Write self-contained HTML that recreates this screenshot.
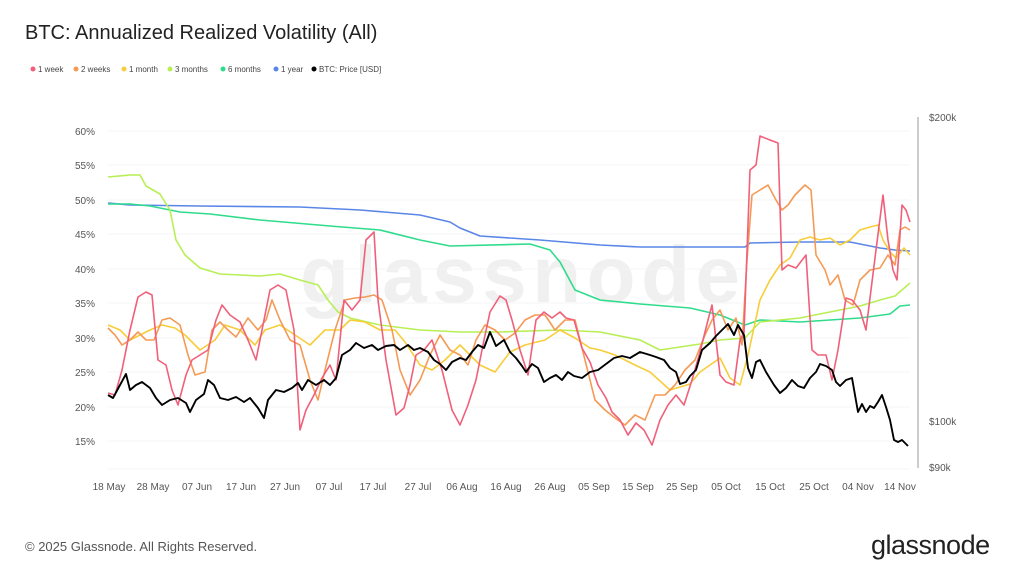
<!DOCTYPE html>
<html><head><meta charset="utf-8"><style>
html,body{margin:0;padding:0;background:#fff;}
body{width:1024px;height:576px;overflow:hidden;font-family:"Liberation Sans",sans-serif;position:relative;}
.t{position:absolute;white-space:nowrap;}
</style></head><body>
<div class="t" style="left:25px;top:22px;font-size:20px;color:#222;">BTC: Annualized Realized Volatility (All)</div>
<svg width="1024" height="576" style="position:absolute;left:0;top:0" font-family="Liberation Sans, sans-serif">
<g font-size="8" fill="#444">
<circle cx="33" cy="69" r="2.5" fill="#f0607a"/><text x="38" y="72">1 week</text>
<circle cx="76" cy="69" r="2.5" fill="#f59a55"/><text x="81" y="72">2 weeks</text>
<circle cx="124" cy="69" r="2.5" fill="#f8cd3a"/><text x="129" y="72">1 month</text>
<circle cx="170" cy="69" r="2.5" fill="#b7ef55"/><text x="175" y="72">3 months</text>
<circle cx="223" cy="69" r="2.5" fill="#2fdc8c"/><text x="228" y="72">6 months</text>
<circle cx="276" cy="69" r="2.5" fill="#5a86e8"/><text x="281" y="72">1 year</text>
<circle cx="314" cy="69" r="2.5" fill="#000"/><text x="319" y="72">BTC: Price [USD]</text>
</g>
<text x="300" y="302" font-size="80" fill="#f0f0f0" font-weight="bold" textLength="440">glassnode</text>
<g stroke="#f5f5f5" stroke-width="1">
<line x1="108" x2="910" y1="131" y2="131"/><line x1="108" x2="910" y1="165" y2="165"/><line x1="108" x2="910" y1="200" y2="200"/><line x1="108" x2="910" y1="234" y2="234"/><line x1="108" x2="910" y1="269" y2="269"/><line x1="108" x2="910" y1="303" y2="303"/><line x1="108" x2="910" y1="338" y2="338"/><line x1="108" x2="910" y1="372" y2="372"/><line x1="108" x2="910" y1="407" y2="407"/><line x1="108" x2="910" y1="441" y2="441"/><line x1="108" x2="910" y1="469" y2="469"/>
</g>
<g font-size="10" fill="#555" text-anchor="end">
<text x="95" y="135">60%</text><text x="95" y="169">55%</text><text x="95" y="204">50%</text><text x="95" y="238">45%</text><text x="95" y="273">40%</text><text x="95" y="307">35%</text><text x="95" y="342">30%</text><text x="95" y="376">25%</text><text x="95" y="411">20%</text><text x="95" y="445">15%</text>
</g>
<line x1="918" y1="117" x2="918" y2="468" stroke="#999" stroke-width="1"/>
<g font-size="10" fill="#555"><text x="929" y="121">$200k</text><text x="929" y="425">$100k</text><text x="929" y="471">$90k</text></g>
<g font-size="10" fill="#555" text-anchor="middle">
<text x="109" y="490">18 May</text><text x="153" y="490">28 May</text><text x="197" y="490">07 Jun</text><text x="241" y="490">17 Jun</text><text x="285" y="490">27 Jun</text><text x="329" y="490">07 Jul</text><text x="373" y="490">17 Jul</text><text x="418" y="490">27 Jul</text><text x="462" y="490">06 Aug</text><text x="506" y="490">16 Aug</text><text x="550" y="490">26 Aug</text><text x="594" y="490">05 Sep</text><text x="638" y="490">15 Sep</text><text x="682" y="490">25 Sep</text><text x="726" y="490">05 Oct</text><text x="770" y="490">15 Oct</text><text x="814" y="490">25 Oct</text><text x="858" y="490">04 Nov</text><text x="900" y="490">14 Nov</text>
</g>
<g fill="none" stroke-width="1.6" stroke-linejoin="round">
<polyline stroke="#5a86e8" points="108,203 130,205 200,206 300,207 360,210 420,215 450,222 460,228 480,236 540,240 600,245 640,247 745,247 750,243 800,242 850,242 860,244 880,248 895,250 910,251"/>
<polyline stroke="#2fdc8c" points="108,204 130,204 150,206 180,212 210,214 260,220 330,226 380,230 420,240 450,246 530,244 550,250 560,262 575,290 600,300 640,304 690,308 720,315 745,325 760,320 780,321 800,322 860,318 890,314 900,306 910,305"/>
<polyline stroke="#b7ef55" points="108,177 130,175 140,175 146,186 160,194 170,210 176,240 185,255 200,268 220,274 260,276 280,274 300,280 318,285 328,300 338,312 350,318 380,325 420,330 460,332 500,332 560,330 600,332 640,340 660,350 700,344 720,340 745,338 760,322 800,318 830,312 860,306 880,300 895,296 910,283"/>
<polyline stroke="#f8cd3a" points="108,325 120,330 130,340 140,335 150,330 162,325 175,328 185,335 200,350 215,340 225,325 240,330 255,345 265,330 280,325 295,335 310,345 325,330 340,330 350,320 365,322 380,330 395,330 405,342 420,365 432,370 445,360 460,345 470,355 480,365 495,372 510,352 525,345 545,340 560,330 575,338 590,348 600,350 615,355 635,365 650,372 670,390 690,384 700,372 710,365 720,358 730,378 740,385 748,355 760,300 770,280 780,265 790,258 800,240 810,237 820,240 830,238 840,245 850,240 860,230 870,227 878,225 883,240 890,252 896,258 904,248 910,255"/>
<polyline stroke="#f59a55" points="108,328 115,335 122,345 130,340 138,332 146,340 154,340 162,320 170,318 180,325 188,355 195,375 205,372 212,330 220,322 228,330 236,337 248,318 258,330 266,320 272,300 280,320 290,340 300,345 310,380 318,400 325,370 335,330 345,300 355,298 365,297 374,295 382,300 392,330 400,370 410,395 420,380 430,355 440,335 450,350 460,355 468,365 476,340 485,325 495,330 505,340 515,333 525,320 535,315 545,315 555,330 565,320 575,320 585,360 595,400 605,410 615,418 625,425 635,415 645,420 655,395 665,395 675,385 685,370 695,360 705,335 712,320 720,310 728,330 736,318 742,345 747,260 752,195 760,190 768,185 776,200 782,210 788,205 795,195 805,185 811,190 816,255 825,270 830,285 838,275 845,300 853,305 860,280 870,270 880,268 888,255 895,265 900,230 905,227 910,230"/>
<polyline stroke="#f0607a" points="108,393 115,395 122,370 130,330 138,297 146,292 152,295 158,360 166,365 172,390 178,405 186,375 192,360 200,355 208,350 216,320 222,305 230,315 240,322 248,340 256,360 262,330 270,290 278,285 286,290 294,330 300,430 306,410 314,395 322,378 330,365 336,380 344,300 352,310 360,300 366,240 374,232 378,300 386,360 396,415 404,408 410,385 416,355 424,350 432,340 442,370 452,410 460,425 468,405 476,380 484,340 490,312 500,296 506,300 512,320 520,350 528,375 536,320 544,312 552,318 560,312 566,318 574,320 582,348 590,362 598,385 606,398 612,412 620,420 628,435 636,423 644,430 652,445 660,420 668,405 676,395 684,405 692,380 700,352 708,320 712,305 720,375 726,382 734,385 740,340 744,333 750,170 756,165 760,136 770,140 778,143 782,270 788,265 796,268 806,255 812,350 818,355 826,355 832,380 838,350 846,298 852,300 860,310 866,330 876,250 883,195 888,240 893,270 897,280 902,205 906,210 910,222"/>
<polyline stroke="#000" stroke-width="1.9" points="108,395 113,398 120,385 126,374 130,390 136,385 142,382 150,388 156,398 162,405 170,400 178,398 186,403 190,412 196,400 204,394 208,380 214,385 220,398 228,400 236,397 244,402 250,398 258,408 264,418 268,400 276,390 284,392 292,388 298,383 302,390 308,380 316,385 324,380 330,385 336,378 342,355 350,350 356,343 364,348 372,345 378,350 386,346 394,345 400,350 408,345 414,350 420,348 428,352 434,360 440,364 446,370 452,362 460,358 466,360 472,352 478,345 484,348 490,332 496,346 504,340 510,352 516,358 522,366 526,372 532,364 538,368 544,382 550,378 556,375 562,380 568,372 574,376 582,378 590,372 598,370 606,364 614,358 622,356 630,358 640,352 650,355 656,357 664,360 670,368 676,372 680,384 686,382 690,376 696,370 702,350 710,343 716,336 722,330 728,324 734,335 738,325 744,335 748,368 752,378 756,362 760,360 766,372 774,385 780,393 786,388 792,380 798,386 804,388 810,378 816,372 820,364 826,366 832,370 836,382 840,386 846,380 852,378 858,412 862,404 866,412 870,406 874,408 878,402 882,395 886,407 890,420 894,440 898,442 902,440 908,446"/>
</g>
</svg>
<div class="t" style="left:25px;top:539px;font-size:13px;color:#555;">© 2025 Glassnode. All Rights Reserved.</div>
<div class="t" style="left:871px;top:530px;font-size:27px;color:#222;letter-spacing:-0.5px;">glassnode</div>
</body></html>
